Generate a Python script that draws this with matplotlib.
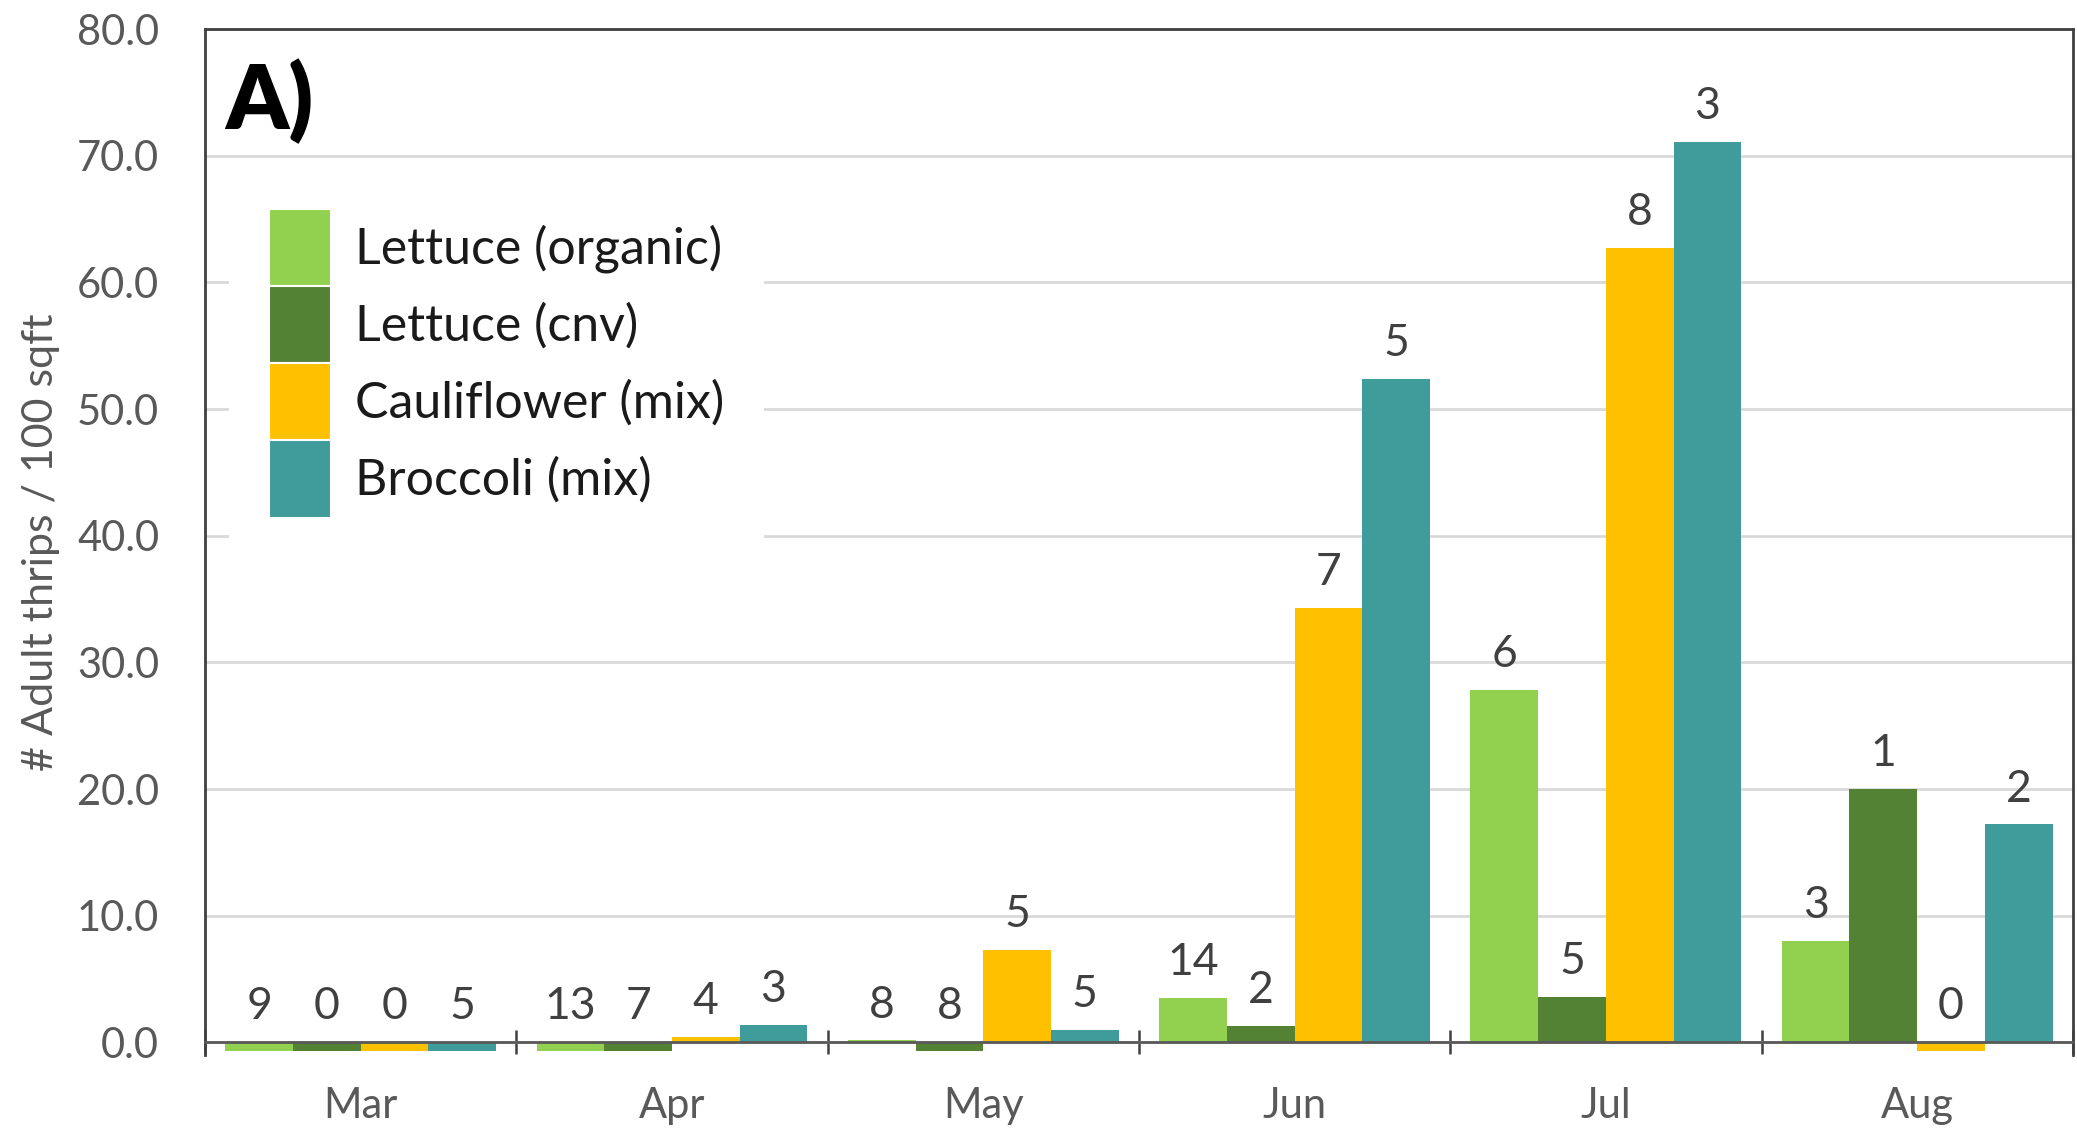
import numpy as np
import matplotlib.pyplot as plt
from matplotlib.patches import Patch

# data
months = ['Mar', 'Apr', 'May', 'Jun', 'Jul', 'Aug']
series = ['Lettuce (organic)', 'Lettuce (cnv)', 'Cauliflower (mix)', 'Broccoli (mix)']
colors = ['#92D050', '#548235', '#FFC000', '#409B9B']

lettuce_org = [-0.7, -0.7, 0.15, 3.5, 27.8, 8.0]
lettuce_cnv = [-0.7, -0.7, -0.7, 1.3, 3.6, 20.0]
cauli = [-0.7, 0.4, 7.3, 34.3, 62.7, -0.7]
broccoli = [-0.7, 1.4, 1.0, 52.4, 71.1, 17.2]

# sample counts printed above bars
n_lettuce_org = [9, 13, 8, 14, 6, 3]
n_lettuce_cnv = [0, 7, 8, 2, 5, 1]
n_cauli = [0, 4, 5, 7, 8, 0]
n_broccoli = [5, 3, 5, 5, 3, 2]

values = [lettuce_org, lettuce_cnv, cauli, broccoli]
counts = [n_lettuce_org, n_lettuce_cnv, n_cauli, n_broccoli]

plt.rcParams['font.family'] = ['Lato', 'DejaVu Sans']

fig = plt.figure(figsize=(20.77, 11.35), dpi=100)
ax = fig.add_axes([0.0987, 0.0705, 0.8993, 0.9039])

x = np.arange(len(months))
w = 0.2175
for i, (vals, ns, c, name) in enumerate(zip(values, counts, colors, series)):
    pos = x + (i - 1.5) * w
    ax.bar(pos, vals, width=w, color=c, zorder=2, label=name)
    for p, v, n in zip(pos, vals, ns):
        ax.annotate(str(n), xy=(p, max(v, 0)), xytext=(0, 25.5),
                    textcoords='offset points', ha='center', va='center',
                    fontsize=32, color='#404040')

ax.set_xlim(-0.5, 5.5)
ax.set_ylim(-1, 80)
ax.set_yticks(np.arange(0, 81, 10))
ax.set_yticklabels(['%.1f' % t for t in np.arange(0, 81, 10)])
ax.yaxis.grid(True, color='#D9D9D9', linewidth=2, zorder=0)
ax.set_axisbelow(True)

# x axis sits at zero, ticks at group boundaries
ax.spines['bottom'].set_position(('data', 0))
ax.spines['bottom'].set_color('#595959')
ax.spines['bottom'].set_linewidth(2)
ax.spines['bottom'].set_zorder(3)
for s in ['left', 'top', 'right']:
    ax.spines[s].set_color('#404040')
    ax.spines[s].set_linewidth(2)

ax.set_xticks(np.arange(-0.5, 6, 1))
ax.set_xticklabels([])
ax.set_xticks(x, minor=True)
ax.set_xticklabels(months, minor=True)
ax.tick_params(axis='x', which='major', direction='inout', length=17, width=1.8, color='#404040')
ax.tick_params(axis='x', which='minor', length=0, pad=32, labelsize=30, labelcolor='#595959')
ax.tick_params(axis='y', length=0, pad=33, labelsize=30, labelcolor='#595959')

ax.set_ylabel('# Adult thrips / 100 sqft', fontsize=31, color='#595959', labelpad=12)

ax.text(0.011, 0.93, 'A)', transform=ax.transAxes, fontsize=64, fontweight='heavy',
        ha='left', va='center', color='black')

handles = [Patch(facecolor=c, edgecolor='white', linewidth=1.5) for c in colors]
leg = ax.legend(handles, series, loc='upper left', bbox_to_anchor=(0.0128, 0.864),
                fontsize=36, frameon=True, facecolor='white', edgecolor='none',
                framealpha=1, fancybox=False, handlelength=1.245, handleheight=2.0,
                labelspacing=0.0, handletextpad=0.48, borderpad=0.8, borderaxespad=0)
for t in leg.get_texts():
    t.set_color('#1a1a1a')

fig.savefig('out.png', dpi=100)
